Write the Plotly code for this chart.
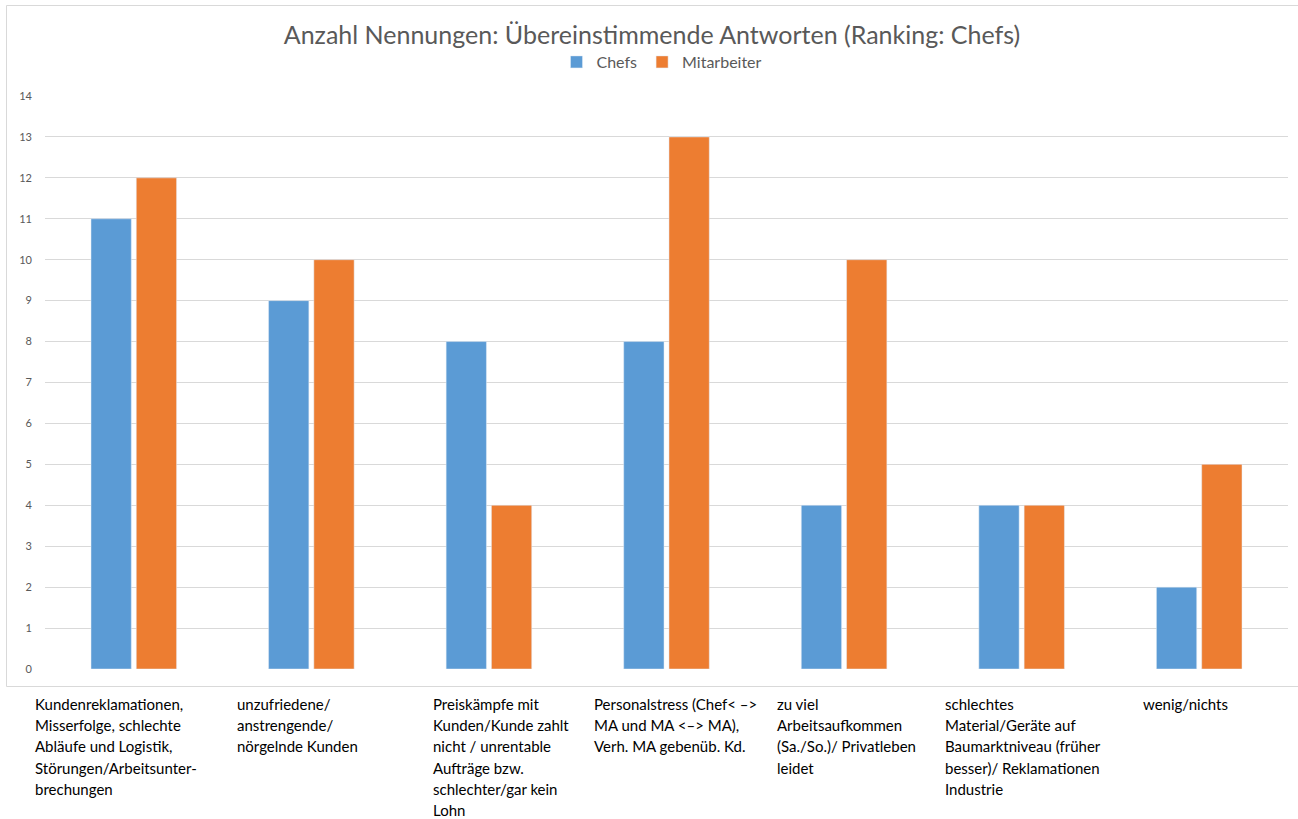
import plotly.graph_objects as go

categories = [
    "Kundenreklamationen",
    "unzufriedene Kunden",
    "Preiskämpfe",
    "Personalstress",
    "zu viel Arbeitsaufkommen",
    "schlechtes Material",
    "wenig/nichts",
]
label_lines = [
    ["Kundenreklamationen,", "Misserfolge, schlechte", "Abläufe und Logistik,", "Störungen/Arbeitsunter-", "brechungen"],
    ["unzufriedene/", "anstrengende/", "nörgelnde Kunden"],
    ["Preiskämpfe mit", "Kunden/Kunde zahlt", "nicht / unrentable", "Aufträge bzw.", "schlechter/gar kein", "Lohn"],
    ["Personalstress (Chef< –>", "MA und MA <–> MA),", "Verh. MA gebenüb. Kd."],
    ["zu viel", "Arbeitsaufkommen", "(Sa./So.)/ Privatleben", "leidet"],
    ["schlechtes", "Material/Geräte auf", "Baumarktniveau (früher", "besser)/ Reklamationen", "Industrie"],
    ["wenig/nichts"],
]
chefs = [11, 9, 8, 8, 4, 4, 2]
mitarbeiter = [12, 10, 4, 13, 10, 4, 5]
yticks = list(range(0, 15))

W, H = 1298, 819
plot_left, plot_right, plot_top, plot_bottom = 45, 1288, 96, 669
L, R, T, B = plot_left, W - plot_right, plot_top, H - plot_bottom
pw, ph = W - L - R, H - T - B

def px_x(x):
    return (x - L) / pw

def px_y(y):
    return (H - B - y) / ph

label_left_px = [34, 236, 432, 593, 776, 944, 1142]
line_y0_px, line_step_px = 704, 21.2

fig = go.Figure()
fig.add_trace(go.Bar(x=categories, y=chefs, name="Chefs", marker_color="#5B9BD5"))
fig.add_trace(go.Bar(x=categories, y=mitarbeiter, name="Mitarbeiter", marker_color="#ED7D31"))

annotations = []
for i, lines in enumerate(label_lines):
    for j, line in enumerate(lines):
        annotations.append(dict(
            text=line, xref="paper", yref="paper",
            x=px_x(label_left_px[i]), y=px_y(line_y0_px + j * line_step_px),
            xanchor="left", yanchor="middle", showarrow=False, borderpad=0,
            font=dict(family="Lato", size=15, color="#000000"),
        ))

shapes = [dict(type="rect", xref="paper", yref="paper",
               x0=px_x(6.5), x1=px_x(1310),
               y0=px_y(686.5), y1=px_y(5.5),
               line=dict(color="#D9D9D9", width=1), fillcolor="rgba(0,0,0,0)", layer="below")]

fig.update_layout(
    width=W, height=H,
    margin=dict(l=L, r=R, t=T, b=B),
    paper_bgcolor="white", plot_bgcolor="white",
    font=dict(family="Lato", color="#595959"),
    title=dict(text="Anzahl Nennungen: Übereinstimmende Antworten (Ranking: Chefs)",
               x=652 / W, xanchor="center", y=1 - 35 / H, yanchor="middle",
               font=dict(family="Lato", size=25, color="#595959")),
    legend=dict(orientation="h", x=px_x(662), xanchor="center", y=px_y(62), yanchor="middle",
                font=dict(family="Lato", size=16, color="#595959"), itemwidth=30,
                bgcolor="rgba(0,0,0,0)", tracegroupgap=0),
    bargap=0.49, bargroupgap=0.11,
    annotations=annotations, shapes=shapes,
    xaxis=dict(showticklabels=False, showgrid=False, zeroline=False, showline=False, ticks=""),
    yaxis=dict(range=[0, 14], tickvals=yticks, showgrid=True, gridcolor="#D9D9D9", gridwidth=1,
               zeroline=False, showline=False, ticks="", ticklabelstandoff=12,
               tickfont=dict(family="Lato", size=11, color="#595959")),
)

fig.write_html("out.html", config={"displayModeBar": False},
               post_script="document.body.style.margin='0';document.body.style.overflow='hidden';")
